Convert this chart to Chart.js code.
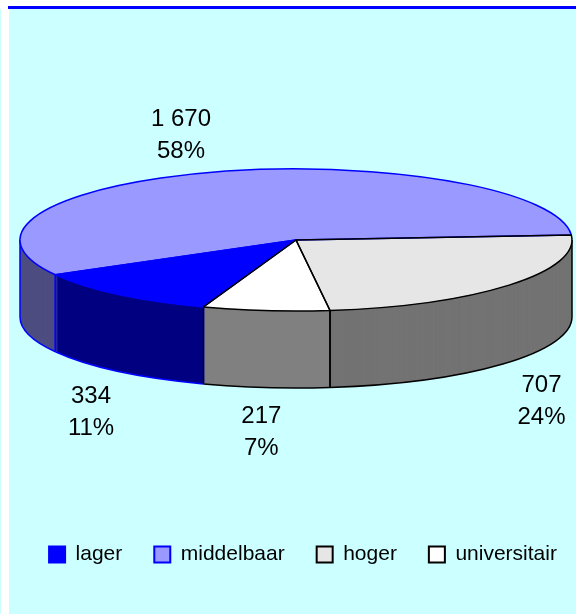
<!DOCTYPE html>
<html lang="nl">
<head>
<meta charset="UTF-8">
<title>Opleidingsniveau</title>
<script src="https://cdn.jsdelivr.net/npm/chart.js"></script>
<style>
  html, body { margin: 0; padding: 0; background: #fff; }
  canvas { display: block; }
</style>
</head>
<body>
<canvas id="pie" width="576" height="614"></canvas>
<script>
// data
const categories = ['lager', 'middelbaar', 'hoger', 'universitair'];
const counts = [334, 1670, 707, 217];
const percentLabels = ['11%', '58%', '24%', '7%'];

// colours: top face, side wall, outline
const topColors = ['#0000ff', '#9999ff', '#e6e6e6', '#ffffff'];
const sideColors = ['#000080', '#4d4d80', '#737373', '#808080'];
const edgeColors = ['#0000ff', '#0000ff', '#000000', '#000000'];

// 3d look: where the top face sits on screen, how flat it is, how thick
const centerX = 296, centerY = 240;
const squash = 71 / 276;
const depth = 77;
const fontFamily = "'Liberation Sans', Arial, sans-serif";

function fmt(v) {
  return String(v).replace(/\B(?=(\d{3})+(?!\d))/g, ' ');
}

// run fn with the context mapped so the arc's circle becomes the flat ellipse
function onEllipse(ctx, arc, dy, fn) {
  ctx.save();
  ctx.translate(centerX, centerY + dy);
  ctx.scale(1, squash);
  ctx.translate(-arc.x, -arc.y);
  fn();
  ctx.restore();
}

function paintArc(ctx, arc, color) {
  const saved = arc.options;
  arc.options = Object.assign({}, saved, { backgroundColor: color, borderWidth: 0 });
  arc.draw(ctx);
  arc.options = saved;
}

function frontPieces(s, e) {
  const out = [];
  for (let k = -1; k <= 2; k++) {
    const lo = Math.max(s, 2 * Math.PI * k);
    const hi = Math.min(e, 2 * Math.PI * k + Math.PI);
    if (hi > lo) out.push([lo, hi]);
  }
  return out;
}

function contains(s, e, a) {
  for (let k = -1; k <= 2; k++) {
    const t = a + 2 * Math.PI * k;
    if (t > s && t < e) return true;
  }
  return false;
}

const pie3d = {
  id: 'pie3d',
  beforeDraw(chart) {
    const ctx = chart.ctx;
    ctx.save();
    ctx.fillStyle = '#ffffff';
    ctx.fillRect(0, 0, chart.width, chart.height);
    ctx.fillStyle = '#ccffff';
    ctx.fillRect(9, 9, chart.width - 9, chart.height - 9);
    ctx.fillRect(0, 9, 1, chart.height - 9);
    ctx.fillStyle = '#0000ff';
    ctx.fillRect(8, 6, chart.width - 8, 3);
    ctx.restore();
  },
  afterLayout(chart) {
    // Excel centres its legend a little right of the middle
    chart.legend.left += 15;
    chart.legend.right += 15;
  },
  beforeDatasetsDraw(chart) {
    const ctx = chart.ctx;
    const arcs = chart.getDatasetMeta(0).data;

    // side walls: stack of shifted copies, bottom first
    for (let d = depth; d >= 1; d--) {
      arcs.forEach((arc, i) => onEllipse(ctx, arc, d, () => paintArc(ctx, arc, sideColors[i])));
    }

    ctx.save();
    ctx.lineWidth = 1.5;
    ctx.lineJoin = 'round';
    arcs.forEach((arc, i) => {
      const r = arc.outerRadius;
      ctx.strokeStyle = edgeColors[i];
      // bottom rim of the visible wall
      frontPieces(arc.startAngle, arc.endAngle).forEach(([lo, hi]) => {
        ctx.beginPath();
        onEllipse(ctx, arc, depth, () => ctx.arc(arc.x, arc.y, r, lo, hi));
        ctx.stroke();
      });
      // vertical edges on the front
      const angles = [arc.startAngle, arc.endAngle];
      [0, Math.PI].forEach(a => { if (contains(arc.startAngle, arc.endAngle, a)) angles.push(a); });
      angles.forEach(a => {
        if (Math.sin(a) < -0.001) return;
        const x = centerX + r * Math.cos(a);
        const y = centerY + r * squash * Math.sin(a);
        ctx.beginPath();
        ctx.moveTo(x, y);
        ctx.lineTo(x, y + depth);
        ctx.stroke();
      });
    });

    // top face
    arcs.forEach((arc, i) => onEllipse(ctx, arc, 0, () => paintArc(ctx, arc, topColors[i])));
    arcs.forEach((arc, i) => {
      ctx.strokeStyle = edgeColors[i];
      ctx.beginPath();
      onEllipse(ctx, arc, 0, () => {
        ctx.moveTo(arc.x, arc.y);
        ctx.arc(arc.x, arc.y, arc.outerRadius, arc.startAngle, arc.endAngle);
        ctx.closePath();
      });
      ctx.stroke();
    });

    // data labels outside each slice (front ones sit below the wall)
    ctx.fillStyle = '#000';
    ctx.font = '24px ' + fontFamily;
    ctx.textAlign = 'center';
    ctx.textBaseline = 'middle';
    arcs.forEach((arc, i) => {
      const mid = (arc.startAngle + arc.endAngle) / 2;
      const r = arc.outerRadius;
      const c = Math.cos(mid), s = Math.sin(mid);
      let x, y;
      if (s > 0) {
        x = centerX + c * (r + 42);
        y = centerY + s * (r * squash + 15) + depth + 30;
      } else {
        x = centerX + c * (r + 125);
        y = centerY + s * (r * squash + 45) + 6;
      }
      ctx.fillText(fmt(counts[i]), x, y - 16);
      ctx.fillText(percentLabels[i], x, y + 16);
    });
    ctx.restore();
    return false;
  }
};

new Chart(document.getElementById('pie'), {
  type: 'pie',
  data: {
    labels: categories,
    datasets: [{
      data: counts,
      backgroundColor: topColors,
      borderWidth: 0
    }]
  },
  options: {
    responsive: false,
    animation: false,
    events: [],
    rotation: 199.6,
    radius: 276,
    layout: { padding: { top: 60, bottom: 39, left: 0, right: 0 } },
    plugins: {
      tooltip: { enabled: false },
      legend: {
        position: 'bottom',
        labels: {
          boxWidth: 16,
          boxHeight: 16,
          padding: 32,
          color: '#000',
          font: { family: fontFamily, size: 21 },
          generateLabels: () => categories.map((name, i) => ({
            text: name,
            fillStyle: topColors[i],
            strokeStyle: edgeColors[i],
            lineWidth: 2,
            fontColor: '#000',
            hidden: false,
            index: i
          }))
        }
      }
    }
  },
  plugins: [pie3d]
});
</script>
</body>
</html>
